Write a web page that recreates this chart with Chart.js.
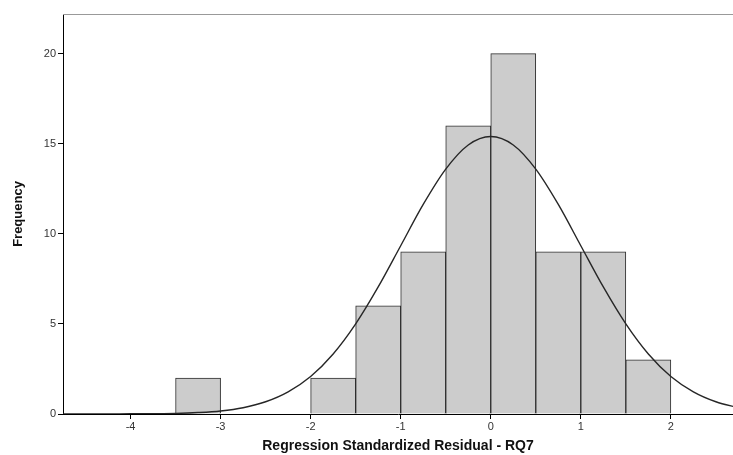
<!DOCTYPE html>
<html>
<head>
<meta charset="utf-8">
<script src="https://cdn.jsdelivr.net/npm/chart.js@4"></script>
<style>
  html, body { margin: 0; padding: 0; background: #fff; }
  #wrap { width: 733px; height: 455px; }
</style>
</head>
<body>
<div id="wrap"><canvas id="hist"></canvas></div>
<script>
// histogram bins (width 0.5), center of each bin and its count
const binCenters = [-3.25, -2.75, -2.25, -1.75, -1.25, -0.75, -0.25, 0.25, 0.75, 1.25, 1.75];
const binCounts = [2, 0, 0, 2, 6, 9, 16, 20, 9, 9, 3];

// normal curve
const curveX = [-4.75, -4.5, -4.25, -4, -3.75, -3.5, -3.25, -3, -2.75, -2.5, -2.25, -2, -1.75, -1.5, -1.25, -1,
  -0.75, -0.5, -0.25, 0, 0.25, 0.5, 0.75, 1, 1.25, 1.5, 1.75, 2, 2.25, 2.5, 2.75];
const curveY = [0, 0, 0, 0.01, 0.01, 0.03, 0.08, 0.17, 0.35, 0.68, 1.23, 2.08, 3.33, 5.0, 7.05, 9.34,
  11.63, 13.59, 14.93, 15.4, 14.93, 13.59, 11.63, 9.34, 7.05, 5.0, 3.33, 2.08, 1.23, 0.68, 0.35];

const xTickValues = [-4, -3, -2, -1, 0, 1, 2];
const yTickValues = [0, 5, 10, 15, 20];

const fontFamily = "Arial, 'Liberation Sans', sans-serif";

const topBorder = {
  id: "topBorder",
  afterDraw(chart) {
    const a = chart.chartArea;
    const ctx = chart.ctx;
    ctx.save();
    ctx.strokeStyle = "#999999";
    ctx.lineWidth = 1;
    ctx.beginPath();
    ctx.moveTo(a.left, a.top + 0.5);
    ctx.lineTo(a.right, a.top + 0.5);
    ctx.stroke();
    ctx.restore();
  },
};

new Chart(document.getElementById("hist"), {
  data: {
    datasets: [
      {
        type: "line",
        data: curveX.map((x, i) => ({ x: x, y: curveY[i] })),
        borderColor: "#262626",
        borderWidth: 1.4,
        pointRadius: 0,
        tension: 0.4,
        cubicInterpolationMode: "monotone",
        fill: false,
      },
      {
        type: "bar",
        data: binCenters.map((x, i) => ({ x: x, y: binCounts[i] > 0 ? binCounts[i] : null })),
        backgroundColor: "#cccccc",
        borderColor: "#2e2e2e",
        borderWidth: 1,
        borderSkipped: "bottom",
        barPercentage: 1,
        categoryPercentage: 1,
      },
    ],
  },
  options: {
    animation: false,
    responsive: true,
    maintainAspectRatio: false,
    layout: { padding: { top: 14, right: 0, left: 0, bottom: 0 } },
    plugins: {
      legend: { display: false },
      tooltip: { enabled: false },
    },
    scales: {
      x: {
        type: "linear",
        min: -4.75,
        max: 2.69,
        offset: false,
        afterBuildTicks: (s) => { s.ticks = xTickValues.map((v) => ({ value: v })); },
        afterFit: (s) => { s.height = 41; },
        grid: { display: true, offset: false, drawOnChartArea: false, drawTicks: true, tickLength: 5, color: "#000" },
        border: { display: true, color: "#000", width: 1 },
        ticks: { color: "#333", font: { family: fontFamily, size: 11 }, padding: 1, maxRotation: 0 },
        title: {
          display: true,
          text: "Regression Standardized Residual - RQ7",
          color: "#111",
          font: { family: fontFamily, size: 14, weight: "bold" },
          padding: { top: 3, bottom: 0 },
        },
      },
      y: {
        min: 0,
        max: 22.2,
        afterBuildTicks: (s) => { s.ticks = yTickValues.map((v) => ({ value: v })); },
        afterFit: (s) => { s.width = 63; },
        grid: { display: true, drawOnChartArea: false, drawTicks: true, tickLength: 5, color: "#000" },
        border: { display: true, color: "#000", width: 1 },
        ticks: { color: "#333", font: { family: fontFamily, size: 11 }, padding: 2 },
        title: {
          display: true,
          text: "Frequency",
          color: "#111",
          font: { family: fontFamily, size: 13, weight: "bold" },
          padding: { top: 11, bottom: 0 },
        },
      },
    },
  },
  plugins: [topBorder],
});
</script>
</body>
</html>
